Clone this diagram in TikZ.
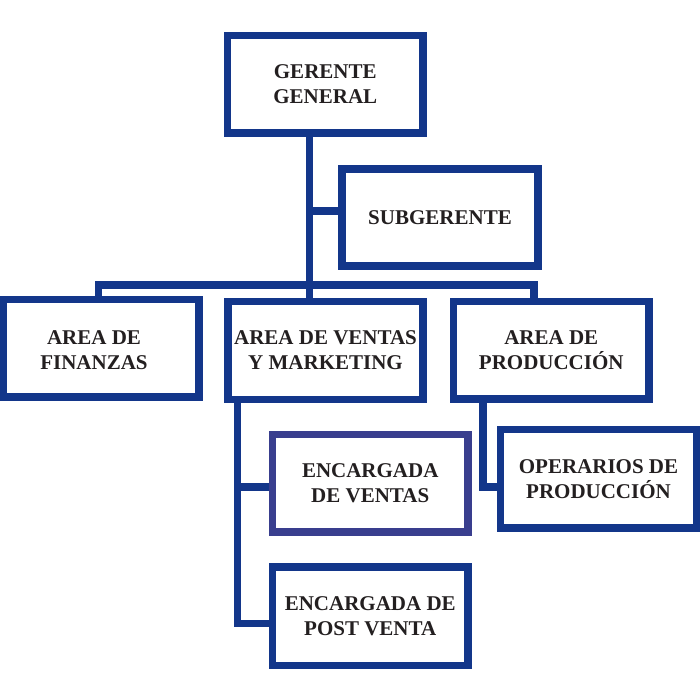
\documentclass[tikz,border=0pt]{standalone}
\usepackage{fontspec}
\setmainfont{Liberation Serif}
\definecolor{boxblue}{HTML}{13368A}
\definecolor{evblue}{HTML}{393E8E}
\definecolor{txt}{HTML}{231F20}
\begin{document}
\begin{tikzpicture}[x=1pt,y=-1pt,
  lbl/.style={text=txt,align=center,font=\fontsize{21}{25}\selectfont\bfseries,inner sep=0pt},
  orgbox/.style={draw=boxblue,line width=7.5pt,rectangle,inner sep=0pt,lbl},
  conn/.style={draw=boxblue,line width=7.5pt}]
\useasboundingbox (0,0) rectangle (700,700);
% boxes
\node[orgbox,minimum width=195.5pt,minimum height=97.5pt] (gg) at (325.25,84.25) {GERENTE\\GENERAL};
\node[orgbox,minimum width=196pt,minimum height=97pt] (sub) at (440,217.5) {SUBGERENTE};
\node[orgbox,minimum width=195.5pt,minimum height=97.5pt] (fin) at (101.25,348.25) {};
\node[lbl] (fint) at (94,350) {AREA DE\\FINANZAS};
\node[orgbox,minimum width=195pt,minimum height=98pt] (avm) at (325.5,350.5) {AREA DE VENTAS\\Y MARKETING};
\node[orgbox,minimum width=195.5pt,minimum height=97.5pt] (ap) at (551.25,350.25) {AREA DE\\PRODUCCIÓN};
\node[orgbox,draw=evblue,minimum width=195.5pt,minimum height=97.5pt] (ev) at (370.25,483.25) {ENCARGADA\\DE VENTAS};
\node[orgbox,minimum width=195.5pt,minimum height=98.5pt] (epv) at (370.25,616.25) {ENCARGADA DE\\POST VENTA};
\node[orgbox,minimum width=196pt,minimum height=98.5pt] (op) at (598.5,478.75) {OPERARIOS DE\\PRODUCCIÓN};
% junction coordinates
\coordinate (trunk) at (309.5,285);
\coordinate (subj) at (309.5,211);
\coordinate (barl) at (98.5,285);
\coordinate (barr) at (534,285);
\coordinate (vl) at (237.5,623.5);
\coordinate (evj) at (237.5,487);
\coordinate (vr) at (483,487);
% connectors
\draw[conn] (trunk |- gg.south) -- (trunk);
\draw[conn] (subj) -- (subj -| sub.west);
\draw[conn,line cap=rect] (barl) -- (barr);
\draw[conn] (barl) -- (barl |- fin.north);
\draw[conn] (barr) -- (barr |- ap.north);
\draw[conn] (trunk) -- (trunk |- avm.north);
\draw[conn] (vl |- avm.south) -- (vl) -- (vl -| epv.west);
\draw[conn] (evj) -- (evj -| ev.west);
\draw[conn] (vr |- ap.south) -- (vr) -- (vr -| op.west);
\end{tikzpicture}
\end{document}
